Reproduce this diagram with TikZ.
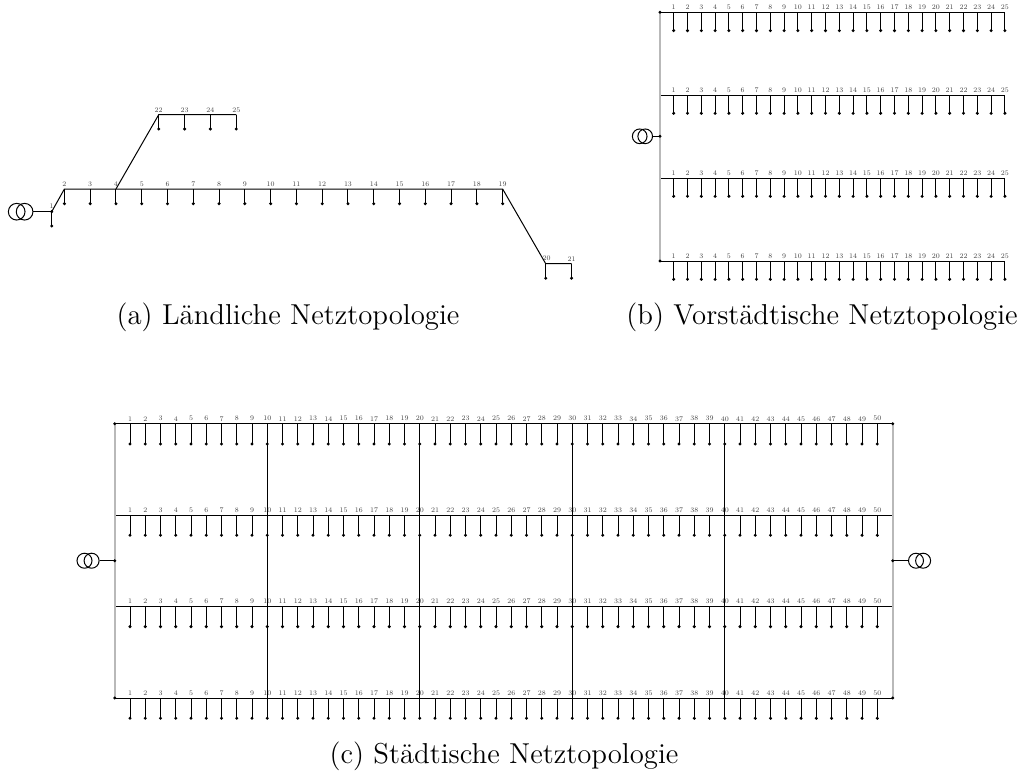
\documentclass[tikz,border=0pt]{standalone}
\usetikzlibrary{calc}
\newcommand{\bn}[1]{\scalebox{0.6}{\fontsize{7}{8}\selectfont #1}}
\newcommand{\capt}[1]{\scalebox{1.44}{\fontsize{12}{14}\selectfont #1}}
\tikzset{
  busline/.style={black,line width=0.6pt},
  feeder/.style={gray!55,line width=1.2pt},
  tie/.style={black,line width=0.6pt},
  busnum/.style={inner sep=0pt,text=black!75},
  captext/.style={inner sep=0pt,anchor=base},
  busdot/.style={circle,fill=black,inner sep=0pt,minimum size=2pt},
  trafo/.style={circle,draw=black,line width=0.6pt,inner sep=0pt,fill=none}
}
\begin{document}
\begin{tikzpicture}[x=0.6pt,y=-0.6pt]
\useasboundingbox (0,0) rectangle (1027,771);
% ---------- (a)
\coordinate (a1) at (51.7,211.7);
\node[busnum] at (51.7,205.7) {\bn{1}};
\foreach \i in {2,...,19}{
  \coordinate (a\i) at ({64.4+(\i-2)*25.78},189);
  \coordinate (d\i) at ({64.4+(\i-2)*25.78},203.7);
  \node[busnum] at ({64.4+(\i-2)*25.78},184.2) {\bn{\i}};
  \draw[busline] (a\i) -- (d\i);
  \node[busdot] at (d\i) {};
}
\coordinate (a20) at (545.7,263.7); \coordinate (d20) at (545.7,278.2);
\coordinate (a21) at (571.6,263.7); \coordinate (d21) at (571.6,278.2);
\node[busnum] at (546.5,258.7) {\bn{20}};
\node[busnum] at (571.6,258.7) {\bn{21}};
\foreach \i/\x in {22/158.7,23/184.6,24/210.4,25/236.3}{
  \coordinate (a\i) at (\x,114.7);
  \coordinate (d\i) at (\x,129);
  \node[busnum] at (\x,109.8) {\bn{\i}};
  \draw[busline] (a\i) -- (d\i);
  \node[busdot] at (d\i) {};
}
\foreach \i in {20,21}{ \draw[busline] (a\i) -- (d\i); \node[busdot] at (d\i) {}; }
\coordinate (d1) at (51.7,226);
\draw[busline] (a1) -- (d1); \node[busdot] at (d1) {}; \node[busdot] at (a1) {};
\draw[busline] (a1) -- (a2) -- (a19) -- (a20) -- (a21);
\draw[busline] (a4) -- (a22) -- (a25);
\node[trafo,minimum size=10pt] (ta1) at (16.7,211.7) {};
\node[trafo,minimum size=10pt] (ta2) at (24.6,211.7) {};
\draw[busline] (ta2.east) -- (a1);
\node[captext] (capa) at (288,324) {\capt{(a) Ländliche Netztopologie}};
% ---------- (b)
\foreach \r/\y in {1/12.3,2/95,3/178,4/261}{
  \coordinate (bs\r) at (660,\y);
  \coordinate (be\r) at (1005.2,\y);
  \draw[busline] (bs\r) -- (be\r);
  \foreach \i in {1,...,25}{
    \coordinate (b\r n\i) at ({673.7+(\i-1)*13.8},\y);
    \coordinate (b\r d\i) at ({673.7+(\i-1)*13.8},\y+18.3);
    \node[busnum] at ({673.7+(\i-1)*13.8},\y-5) {\bn{\i}};
    \draw[busline] (b\r n\i) -- (b\r d\i);
    \node[busdot] at (b\r d\i) {};
  }
}
\draw[feeder] (bs1) -- (bs4);
\node[busdot] at (bs1) {}; \node[busdot] at (bs4) {};
\coordinate (bj) at (660,136.3);
\node[trafo,minimum size=8.8pt] (tb1) at (639.7,136.3) {};
\node[trafo,minimum size=8.8pt] (tb2) at (645.2,136.3) {};
\draw[busline] (tb2.east) -- (bj); \node[busdot] at (bj) {};
\node[captext] (capb) at (822,324) {\capt{(b) Vorstädtische Netztopologie}};
% ---------- (c)
\foreach \r/\y in {1/423.7,2/515,3/606.3,4/698}{
  \coordinate (cs\r) at (114.7,\y);
  \coordinate (ce\r) at (892.7,\y);
  \draw[busline] (cs\r) -- (ce\r);
  \foreach \i in {1,...,50}{
    \coordinate (c\r n\i) at ({130+(\i-1)*15.25},\y);
    \coordinate (c\r d\i) at ({130+(\i-1)*15.25},\y+20.3);
    \node[busnum] at ({130+(\i-1)*15.25},\y-5) {\bn{\i}};
    \draw[busline] (c\r n\i) -- (c\r d\i);
    \node[busdot] at (c\r d\i) {};
  }
}
\draw[feeder] (cs1) -- (cs4);
\draw[feeder] (ce1) -- (ce4);
\foreach \i in {10,20,30,40}{ \draw[tie] (c1n\i) -- (c4n\i); }
\foreach \r in {1,4}{ \node[busdot] at (cs\r) {}; \node[busdot] at (ce\r) {}; }
\coordinate (cj1) at (114.7,560.7);
\coordinate (cj2) at (892.7,560.7);
\node[trafo,minimum size=9pt] (tc1) at (84.5,560.7) {};
\node[trafo,minimum size=9pt] (tc2) at (91.6,560.7) {};
\draw[busline] (tc2.east) -- (cj1); \node[busdot] at (cj1) {};
\node[trafo,minimum size=9pt] (tc3) at (916,560.7) {};
\node[trafo,minimum size=9pt] (tc4) at (923.1,560.7) {};
\draw[busline] (cj2) -- (tc3.west); \node[busdot] at (cj2) {};
\node[captext] (capc) at (504,763) {\capt{(c) Städtische Netztopologie}};
\end{tikzpicture}
\end{document}
